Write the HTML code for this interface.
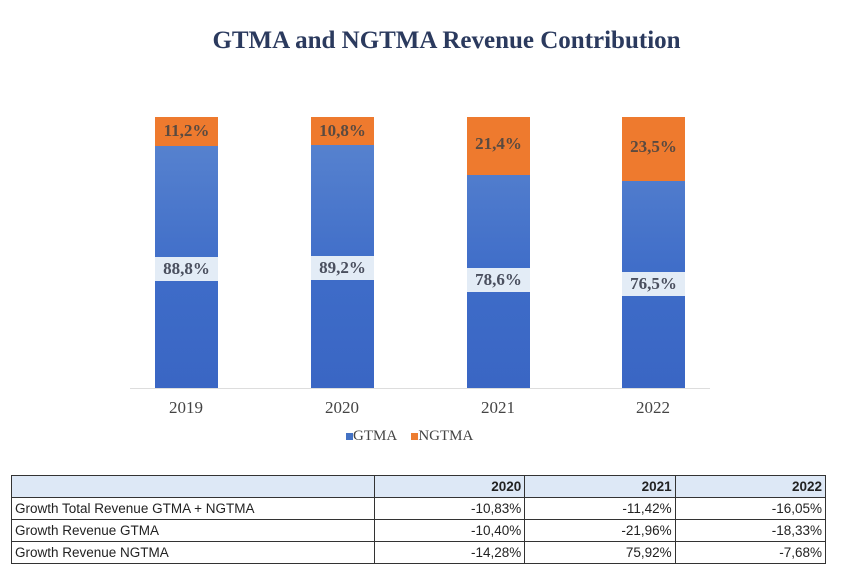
<!DOCTYPE html>
<html><head><style>
body{margin:0;width:849px;height:577px;background:#fff;position:relative;overflow:hidden;font-family:"Liberation Serif",serif}
.t{position:absolute;left:0;width:893px;top:27px;text-align:center;font-weight:bold;font-size:25px;color:#2b3a5e}
.bar{position:absolute;width:63px;background:linear-gradient(#5b86d0,#3e6cc8 60%,#3a66c4)}
.or{position:absolute;left:0;top:0;width:100%;background:#ee7a2e;font-weight:bold;font-size:17px;color:#5a4a40;text-align:center}
.lb{position:absolute;left:0;width:100%;height:24px;background:#e3ecf6;font-weight:bold;font-size:17px;color:#4a4f5e;text-align:center;line-height:24px}
.yr{position:absolute;top:398px;font-size:17px;color:#444;width:80px;text-align:center}
table{position:absolute;left:11px;top:475px;width:815px;border-collapse:collapse;font-family:"Liberation Sans",sans-serif;font-size:13.5px;color:#222}
td{border:1.5px solid #333;height:21px;padding:0 3px;text-align:right}
td:first-child{text-align:left}
</style></head><body>
<div class="t">GTMA and NGTMA Revenue Contribution</div>
<div style="position:absolute;left:130px;top:388px;width:580px;height:1px;background:#ddd"></div>
<div class="bar" style="left:155px;top:117px;height:271px"><div class="or" style="height:29px;line-height:28px">11,2%</div><div class="lb" style="top:140px">88,8%</div></div>
<div class="bar" style="left:311px;top:117px;height:271px"><div class="or" style="height:28px;line-height:28px">10,8%</div><div class="lb" style="top:139px">89,2%</div></div>
<div class="bar" style="left:467px;top:117px;height:271px"><div class="or" style="height:58px;line-height:54px">21,4%</div><div class="lb" style="top:151px">78,6%</div></div>
<div class="bar" style="left:622px;top:117px;height:271px"><div class="or" style="height:64px;line-height:60px">23,5%</div><div class="lb" style="top:155px">76,5%</div></div>
<div class="yr" style="left:146px">2019</div><div class="yr" style="left:302px">2020</div><div class="yr" style="left:458px">2021</div><div class="yr" style="left:613px">2022</div>
<div style="position:absolute;top:428px;left:346px;font-size:15px;color:#444"><span style="display:inline-block;width:7px;height:7px;background:#4472c4"></span>GTMA &nbsp;&nbsp;&nbsp;<span style="display:inline-block;width:7px;height:7px;background:#ed7d31"></span>NGTMA</div>
<table>
<tr style="background:#dde8f6;font-weight:bold"><td style="width:356px"></td><td>2020</td><td>2021</td><td>2022</td></tr>
<tr><td>Growth Total Revenue GTMA + NGTMA</td><td>-10,83%</td><td>-11,42%</td><td>-16,05%</td></tr>
<tr><td>Growth Revenue GTMA</td><td>-10,40%</td><td>-21,96%</td><td>-18,33%</td></tr>
<tr><td>Growth Revenue NGTMA</td><td>-14,28%</td><td>75,92%</td><td>-7,68%</td></tr>
</table>
</body></html>
